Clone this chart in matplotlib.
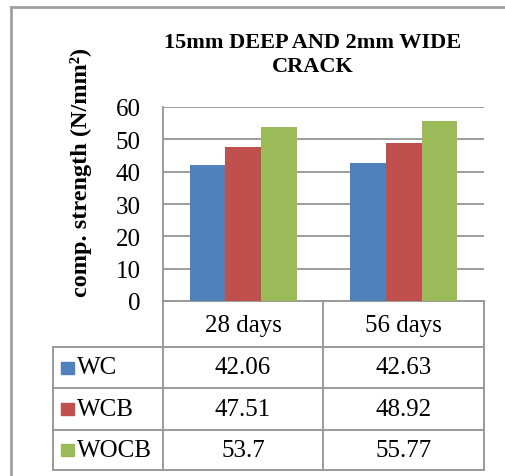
import matplotlib.pyplot as plt
import numpy as np

plt.rcParams['font.family'] = ['Liberation Serif', 'DejaVu Serif']

categories = ['28 days', '56 days']
series = ['WC', 'WCB', 'WOCB']
wc = [42.06, 42.63]
wcb = [47.51, 48.92]
wocb = [53.7, 55.77]
values = [wc, wcb, wocb]
value_labels = [['42.06', '42.63'], ['47.51', '48.92'], ['53.7', '55.77']]
colors = ['#4F81BD', '#C0504D', '#9BBB59']
yticks = [0, 10, 20, 30, 40, 50, 60]

W, H = 506, 477
fig = plt.figure(figsize=(W / 100, H / 100), dpi=100)

# plot area in pixel terms
L, R, T, B = 163, 484, 108, 302
ax = fig.add_axes([L / W, 1 - B / H, (R - L) / W, (B - T) / H])

x = np.arange(len(categories))
bw = 1 / 4.5
for i, (vals, c) in enumerate(zip(values, colors)):
    ax.bar(x + (i - 1) * bw, vals, bw, color=c, zorder=3)

ax.set_xlim(-0.5, len(categories) - 0.5)
ax.set_ylim(0, 60)
ax.set_yticks(yticks)
ax.set_yticklabels([str(t) for t in yticks], fontsize=18)
ax.tick_params(axis='y', length=0, pad=16)
ax.set_xticks([])
ax.yaxis.grid(True, color='#8c8c8c', linewidth=1.2, zorder=0)
for s in ['top', 'right', 'bottom']:
    ax.spines[s].set_visible(False)
ax.spines['left'].set_color('#8c8c8c')
ax.spines['left'].set_linewidth(1.2)

# data table below the plot area
lc = '#9a9a9a'
ph = B - T
pw = R - L
def fy(py):
    return (B - py) / ph
def fx(px):
    return (px - L) / pw

row_y = [302, 348, 389, 431, 471]
x_left, x_mid, x_right = 53, 323, 484
kw = dict(transform=ax.transAxes, color=lc, linewidth=1.4, clip_on=False)
# header row
ax.plot([fx(L), fx(x_right)], [fy(302), fy(302)], **kw)
for yy in row_y[1:]:
    ax.plot([fx(x_left), fx(x_right)], [fy(yy), fy(yy)], **kw)
ax.plot([fx(L), fx(L)], [fy(302), fy(471)], **kw)
ax.plot([fx(x_mid), fx(x_mid)], [fy(302), fy(471)], **kw)
ax.plot([fx(x_right), fx(x_right)], [fy(302), fy(471)], **kw)
ax.plot([fx(x_left), fx(x_left)], [fy(348), fy(471)], **kw)

col_cx = [(L + x_mid) / 2, (x_mid + x_right) / 2]
for j, cat in enumerate(categories):
    ax.text(fx(col_cx[j]), fy(326), cat, transform=ax.transAxes,
            ha='center', va='center', fontsize=18)

for i, name in enumerate(series):
    cy = (row_y[i + 1] + row_y[i + 2]) / 2
    ax.add_patch(plt.Rectangle((fx(61), fy(cy + 6)), 13 / pw, 12 / ph,
                               transform=ax.transAxes, color=colors[i],
                               clip_on=False))
    ax.text(fx(77), fy(cy), name, transform=ax.transAxes,
            ha='left', va='center', fontsize=18)
    for j in range(len(categories)):
        ax.text(fx(col_cx[j]), fy(cy), value_labels[i][j],
                transform=ax.transAxes, ha='center', va='center', fontsize=18)

ax.set_ylabel('comp. strength (N/mm²)', fontsize=17.5, fontweight='bold')
ax.yaxis.set_label_coords(fx(92), fy(172))

fig.text(313 / W, 1 - 55 / H, '15mm DEEP AND 2mm WIDE\nCRACK', ha='center',
         va='center', fontsize=16, fontweight='bold', linespacing=1.3)

# outer chart border
fig.add_artist(plt.Line2D([11 / W, 11 / W], [0, 1 - 8 / H], color='#a0a0a0',
                          linewidth=2, transform=fig.transFigure))
fig.add_artist(plt.Line2D([11 / W, 1], [1 - 8 / H, 1 - 8 / H], color='#a0a0a0',
                          linewidth=2, transform=fig.transFigure))

fig.savefig('out.png', dpi=100)
